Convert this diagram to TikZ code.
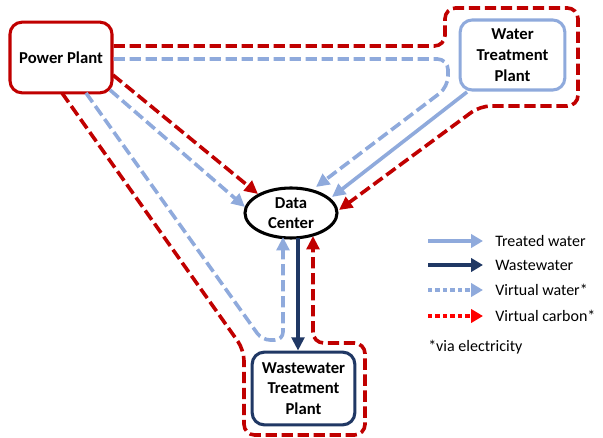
\documentclass[tikz,border=0pt]{standalone}
\usepackage{fontspec}
\setmainfont{Carlito}
\usetikzlibrary{arrows.meta,shapes.geometric}
\definecolor{cred}{HTML}{C00000}
\definecolor{cblue}{HTML}{8FAADC}
\definecolor{cnavy}{HTML}{203864}
\definecolor{bred}{HTML}{FF0000}
\tikzset{
  box/.style={draw, line width=2.3pt, rounded corners=9pt, align=center, font=\fontsize{12.5}{15.5}\selectfont\bfseries, inner sep=0pt},
  vflow/.style={line width=2.7pt, dash pattern=on 8.5pt off 3.5pt},
  tip/.style={-{Triangle[length=10pt,width=9.5pt]}},
  legtip/.style={-{Triangle[length=9pt,width=10pt]}},
  legtxt/.style={anchor=west, font=\fontsize{12}{14}\selectfont, inner sep=0pt},
}
\begin{document}
\begin{tikzpicture}[x=0.75pt,y=-0.75pt]
\useasboundingbox (0,0) rectangle (603,438);
% nodes
\node[box, draw=cred, minimum width=76.5pt, minimum height=53pt] (pp) at (61,57.5) {Power Plant};
\node[box, draw=cblue, minimum width=78.5pt, minimum height=52.5pt] (wtp) at (512.5,55) {Water\\Treatment\\Plant};
\node[draw, line width=2.3pt, ellipse, minimum width=69pt, minimum height=37.5pt, inner sep=0pt, align=center, font=\fontsize{12.5}{15.5}\selectfont\bfseries] (dc) at (291,213) {Data\\Center};
\node[box, draw=cnavy, minimum width=77pt, minimum height=54.5pt] (wwtp) at (303.5,388.5) {Wastewater\\Treatment\\Plant};

% waypoints
\coordinate (r1a) at (445,46);
\coordinate (r1b) at (445,8);
\coordinate (r1c) at (578,8);
\coordinate (r1d) at (578,106);
\coordinate (r1e) at (480,106);
\coordinate (r1end) at (339,210);
\coordinate (b1a) at (448,59);
\coordinate (b1b) at (448,87);
\coordinate (b1end) at (316,187);
\coordinate (tws) at (467,92);
\coordinate (twe) at (332,197);
\coordinate (r2s) at (113,75);
\coordinate (r2e) at (258,194);
\coordinate (b2s) at (110,90);
\coordinate (b2e) at (245,207);
\coordinate (r3s) at (62,93);
\coordinate (r3a) at (244,350);
\coordinate (r3b) at (244,435);
\coordinate (r3c) at (365,435);
\coordinate (r3d) at (365,343);
\coordinate (r3e) at (313,343);
\coordinate (r3end) at (313,236);
\coordinate (b3s) at (86,93);
\coordinate (b3a) at (262,340);
\coordinate (b3b) at (283,340);
\coordinate (b3end) at (283,237);
\coordinate (wws) at (298,238);

% virtual carbon: PP -> WTP outline -> DC
\draw[vflow, cred, tip, rounded corners=8pt] (pp.east |- r1a) -- (r1a) -- (r1b) -- (r1c) -- (r1d) -- (r1e) -- (r1end);
% virtual water: PP -> WTP -> DC
\draw[vflow, cblue, tip, rounded corners=8pt] (pp.east |- b1a) -- (b1a) -- (b1b) -- (b1end);
% treated water
\draw[line width=2.7pt, cblue, tip] (tws) -- (twe);
% PP -> DC
\draw[vflow, cred, tip] (r2s) -- (r2e);
\draw[vflow, cblue, tip] (b2s) -- (b2e);
% PP -> WWTP outline -> DC
\draw[vflow, cred, tip, rounded corners=8pt] (r3s) -- (r3a) -- (r3b) -- (r3c) -- (r3d) -- (r3e) -- (r3end);
\draw[vflow, cblue, tip, rounded corners=6pt] (b3s) -- (b3a) -- (b3b) -- (b3end);
% wastewater
\draw[line width=2.7pt, cnavy, tip] (wws) -- (wws |- wwtp.north);

% legend
\coordinate (l1a) at (428,241); \coordinate (l1b) at (483,241);
\coordinate (l2a) at (428,265); \coordinate (l2b) at (483,265);
\coordinate (l3a) at (428,290); \coordinate (l3b) at (483,290);
\coordinate (l4a) at (428,316); \coordinate (l4b) at (483,316);
\draw[line width=3.6pt, cblue, legtip] (l1a) -- (l1b);
\draw[line width=3.6pt, cnavy, legtip] (l2a) -- (l2b);
\draw[line width=3.4pt, cblue, legtip, dash pattern=on 3.2pt off 2.4pt] (l3a) -- (l3b);
\draw[line width=3.4pt, bred, legtip, dash pattern=on 3.2pt off 2.4pt] (l4a) -- (l4b);
\node[legtxt] (t1) at (495,241) {Treated water};
\node[legtxt] (t2) at (495,265) {Wastewater};
\node[legtxt] (t3) at (495,290) {Virtual water*};
\node[legtxt] (t4) at (495,316) {Virtual carbon*};
\node[legtxt] (t5) at (428,347) {*via electricity};
\end{tikzpicture}
\end{document}
